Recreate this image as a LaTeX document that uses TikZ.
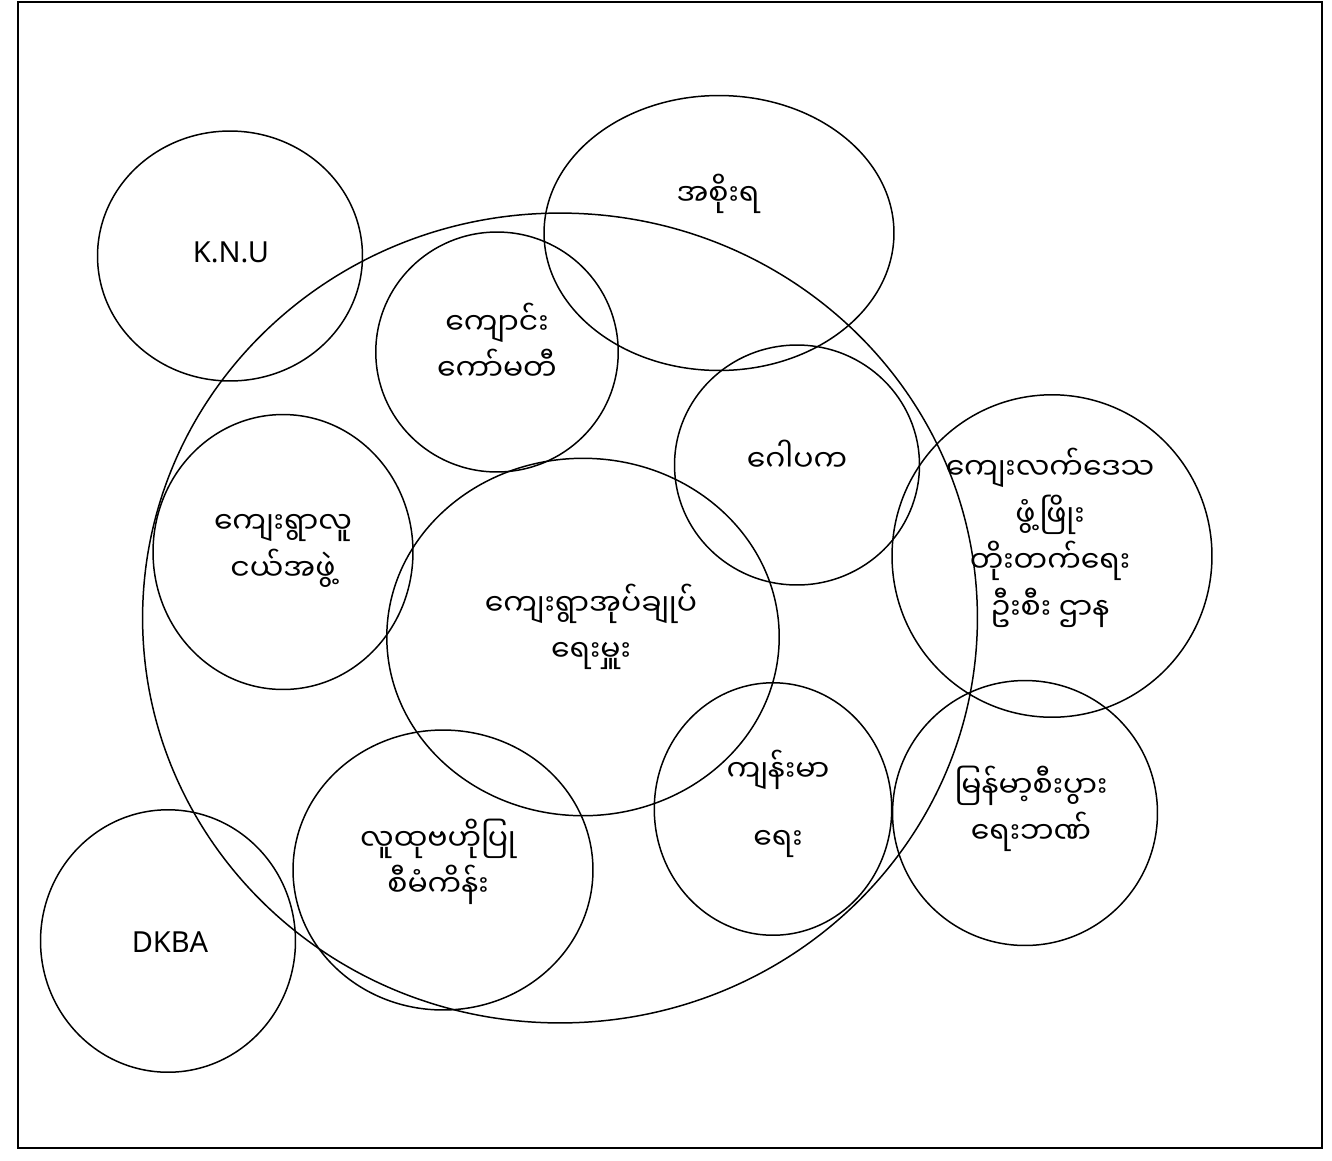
\documentclass[tikz,border=0pt]{standalone}
\usepackage{fontspec}
\setmainfont{Noto Sans}
\newfontfamily\mmfont[Script=Myanmar]{Noto Sans Myanmar UI}
\usetikzlibrary{shapes.geometric}
\tikzset{
  bubble/.style={draw, ellipse, inner sep=0pt, line width=0.85pt},
  mmtext/.style={align=center, inner sep=0pt, font=\mmfont\fontsize{17}{26.5}\selectfont},
  entext/.style={inner sep=0pt, font=\fontsize{16.5}{26}\selectfont},
}
\begin{document}
\begin{tikzpicture}[x=0.02cm, y=-0.02cm]
      \useasboundingbox (0,0) rectangle (1332,1160);
      \draw[line width=1pt] (18,2) rectangle (1322,1148);
      % outer ring
      \node[bubble, minimum width=16.7cm, minimum height=16.2cm] (village) at (560,618) {};
      % circles
      \node[bubble, minimum width=7cm, minimum height=5.5cm] (gov) at (719,233) {};
      \node[bubble, minimum width=5.3cm, minimum height=5cm] (knu) at (230,256) {};
      \node[bubble, minimum width=4.85cm, minimum height=4.8cm] (school) at (497,352) {};
      \node[bubble, minimum width=4.9cm, minimum height=4.8cm] (gopaka) at (797,465) {};
      \node[bubble, minimum width=6.4cm, minimum height=6.45cm] (rural) at (1052,556) {};
      \node[bubble, minimum width=5.2cm, minimum height=5.5cm] (youth) at (283,552) {};
      \node[bubble, minimum width=7.85cm, minimum height=7.15cm] (admin) at (583,637) {};
      \node[bubble, minimum width=4.75cm, minimum height=5.05cm] (health) at (773,809) {};
      \node[bubble, minimum width=5.3cm, minimum height=5.3cm] (bank) at (1025,813) {};
      \node[bubble, minimum width=6cm, minimum height=5.6cm] (cdd) at (443,870) {};
      \node[bubble, minimum width=5.1cm, minimum height=5.25cm] (dkba) at (168,941) {};
      % labels
      \node[mmtext] (govtext) at (718,194) {အစိုးရ};
      \node[entext] (knutext) at (231,252) {K.N.U};
      \node[mmtext] (schooltext) at (497,342) {ကျောင်း\\ကော်မတီ};
      \node[mmtext] (gopakatext) at (797,456) {ဂေါပက};
      \node[mmtext] (ruraltext) at (1050,538) {ကျေးလက်ဒေသ\\ဖွံ့ဖြိုး\\တိုးတက်ရေး\\ဦးစီး ဌာန};
      \node[mmtext] (youthtext) at (283,551) {ကျေးရွာလူ\\ငယ်အဖွဲ့};
      \node[mmtext] (admintext) at (591,627) {ကျေးရွာအုပ်ချုပ်\\ရေးမှူး};
      \node[mmtext] (healthtext) at (778,804) {ကျန်းမာ\\[12pt]ရေး};
      \node[mmtext] (banktext) at (1031,809) {မြန်မာ့စီးပွား\\ရေးဘဏ်};
      \node[mmtext] (cddtext) at (438,862) {လူထုဗဟိုပြု\\စီမံကိန်း};
      \node[entext] (dkbatext) at (170,942) {DKBA};
    \end{tikzpicture}
\end{document}
